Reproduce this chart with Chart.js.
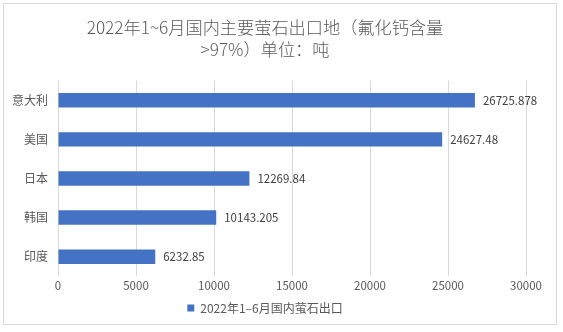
<!DOCTYPE html>
<html>
<head>
<meta charset="utf-8">
<script src="https://cdn.jsdelivr.net/npm/chart.js@4/dist/chart.umd.min.js"></script>
<style>
  html, body { margin: 0; padding: 0; background: #fff; }
  #box {
    position: absolute; left: 3px; top: 3px;
    width: 554px; height: 322px;
    border: 1px solid #d9d9d9; box-sizing: border-box;
  }
</style>
</head>
<body>
<div id="box"><canvas id="c"></canvas></div>
<script>
const categories = ['意大利', '美国', '日本', '韩国', '印度'];
const values = [26725.878, 24627.48, 12269.84, 10143.205, 6232.85];
const valueLabels = ['26725.878', '24627.48', '12269.84', '10143.205', '6232.85'];
const seriesName = '2022年1–6月国内萤石出口';
const titleLines = ['2022年1~6月国内主要萤石出口地（氟化钙含量', '>97%）单位：吨'];

const FONT = '"Noto Sans CJK SC", "Noto Sans", sans-serif';

// numbers to the right of each bar
const barLabels = {
  id: 'barLabels',
  afterDatasetsDraw(chart) {
    const ctx = chart.ctx;
    const meta = chart.getDatasetMeta(0);
    ctx.save();
    ctx.font = '11.5px ' + FONT;
    ctx.fillStyle = '#404040';
    ctx.textAlign = 'left';
    ctx.textBaseline = 'middle';
    meta.data.forEach((bar, i) => {
      ctx.fillText(valueLabels[i], bar.x + 8, bar.y);
    });
    ctx.restore();
  }
};

new Chart(document.getElementById('c'), {
  type: 'bar',
  data: {
    labels: categories,
    datasets: [{
      label: seriesName,
      data: values,
      backgroundColor: '#4472C4',
      categoryPercentage: 1,
      barPercentage: 0.37
    }]
  },
  options: {
    indexAxis: 'y',
    responsive: true,
    maintainAspectRatio: false,
    animation: false,
    layout: { padding: { left: 0, right: 30, top: 0, bottom: 0 } },
    plugins: {
      title: {
        display: true,
        text: titleLines,
        color: '#595959',
        font: { family: FONT, size: 17.2, weight: 300, lineHeight: 1.3 },
        padding: { top: 12, bottom: 20 }
      },
      legend: {
        position: 'bottom',
        labels: {
          color: '#595959',
          font: { family: FONT, size: 12 },
          boxWidth: 7,
          boxHeight: 7,
          padding: 6
        }
      },
      tooltip: { enabled: false }
    },
    scales: {
      x: {
        min: 0,
        max: 30000,
        ticks: {
          stepSize: 5000,
          color: '#595959',
          font: { family: FONT, size: 11.5 },
          padding: 3,
          callback: v => String(v)
        },
        grid: { color: '#d9d9d9', drawTicks: false },
        border: { display: false }
      },
      y: {
        ticks: { color: '#595959', font: { family: FONT, size: 12 }, padding: 10 },
        grid: { display: false, drawTicks: false },
        border: { display: false },
        afterFit(scale) { scale.width = 54; }
      }
    }
  },
  plugins: [barLabels]
});
</script>
</body>
</html>
